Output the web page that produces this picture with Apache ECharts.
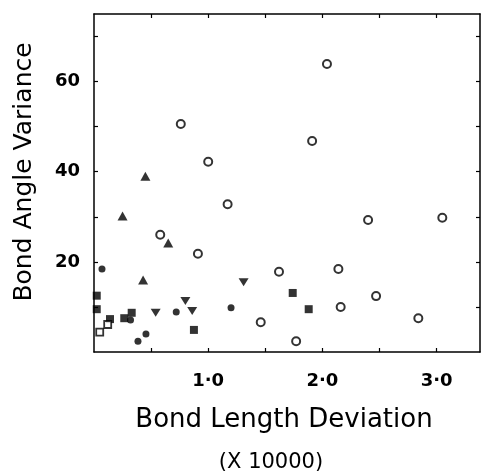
<!DOCTYPE html>
<html>
<head>
<meta charset="utf-8">
<style>
html,body{margin:0;padding:0;background:#fff;}
#c{width:482px;height:471px;}
</style>
<script src="https://cdn.jsdelivr.net/npm/echarts@6/dist/echarts.min.js"></script>
</head>
<body>
<div id="c"></div>
<script>
// Data
const openCircles = [
  [0.76, 50.6], [1.00, 42.2], [2.04, 63.9], [1.91, 46.8], [1.17, 32.8],
  [0.58, 26.0], [0.91, 21.8], [1.62, 17.8], [1.46, 6.6], [2.40, 29.3],
  [3.05, 29.8], [2.14, 18.4], [2.47, 12.4], [2.16, 10.0], [2.84, 7.5], [1.77, 2.4]
];
const filledTriangles = [[0.45, 39.0], [0.25, 30.2], [0.65, 24.2], [0.43, 16.0]];
const downTriangles = [[1.31, 15.5], [0.80, 11.3], [0.86, 9.1], [0.54, 8.7]];
const filledCircles = [[0.07, 18.4], [0.72, 8.9], [1.20, 9.8], [0.455, 4.0], [0.385, 2.4], [0.32, 7.1]];
const filledSquares = [[0.024, 12.5], [0.024, 9.5], [0.14, 7.3], [0.265, 7.5], [0.33, 8.7], [0.875, 4.9], [1.74, 13.1], [1.88, 9.5]];
const openSquares = [[0.05, 4.4], [0.12, 6.1]];

const xTicks = [0.5, 1.0, 1.5, 2.0, 2.5, 3.0];
const xLabels = [1.0, 2.0, 3.0];
const yTicks = [10, 20, 30, 40, 50, 60, 70];
const yLabels = [20, 40, 60];

const xTitle = 'Bond Length Deviation';
const xSub = '(X 10000)';
const yTitle = 'Bond Angle Variance';

const FONT = 'DejaVu Sans';
const frameLine = {show: true, onZero: false, lineStyle: {color: '#000', width: 1.5}};

const chart = echarts.init(document.getElementById('c'), null, {renderer: 'canvas'});
const baseX = {
  type: 'value', min: 0, max: 3.38, splitLine: {show: false},
  axisLine: frameLine,
  axisTick: {show: true, inside: true, length: 4, customValues: xTicks, lineStyle: {color: '#000', width: 1.2}}
};
const baseY = {
  type: 'value', min: 0, max: 75, splitLine: {show: false},
  axisLine: frameLine,
  axisTick: {show: true, inside: true, length: 4, customValues: yTicks, lineStyle: {color: '#000', width: 1.2}}
};
chart.setOption({
  animation: false,
  backgroundColor: '#fff',
  grid: {left: 94, right: 2, top: 14, bottom: 119, containLabel: false},
  xAxis: [
    Object.assign({}, baseX, {
      position: 'bottom',
      axisLabel: {show: true, customValues: xLabels, margin: 20, color: '#000',
        fontFamily: FONT, fontSize: 18, fontWeight: 'bold',
        formatter: v => v.toFixed(1).replace('.', '\u00B7')}
    }),
    Object.assign({}, baseX, {position: 'top', axisLabel: {show: false}})
  ],
  yAxis: [
    Object.assign({}, baseY, {
      position: 'left',
      axisLabel: {show: true, customValues: yLabels, margin: 14, color: '#000',
        fontFamily: FONT, fontSize: 18, fontWeight: 'bold'}
    }),
    Object.assign({}, baseY, {position: 'right', axisLabel: {show: false}})
  ],
  graphic: [
    {type: 'text', x: 284, y: 420, style: {text: xTitle, fill: '#000', font: '26px "' + FONT + '"', textAlign: 'center', textVerticalAlign: 'middle'}},
    {type: 'text', x: 271, y: 463, style: {text: xSub, fill: '#000', font: '21px "' + FONT + '"', textAlign: 'center', textVerticalAlign: 'middle'}},
    {type: 'text', x: 24, y: 172, rotation: Math.PI / 2, style: {text: yTitle, fill: '#000', font: '25px "' + FONT + '"', textAlign: 'center', textVerticalAlign: 'middle'}}
  ],
  series: [
    {type: 'scatter', data: openCircles, symbol: 'circle', symbolSize: 8,
      itemStyle: {color: '#fff', borderColor: '#000', borderWidth: 2}},
    {type: 'scatter', data: filledTriangles, symbol: 'triangle', symbolSize: [10, 9],
      itemStyle: {color: '#000'}},
    {type: 'scatter', data: downTriangles, symbol: 'triangle', symbolRotate: 180, symbolSize: [10, 8],
      itemStyle: {color: '#000'}},
    {type: 'scatter', data: filledCircles, symbol: 'circle', symbolSize: 7,
      itemStyle: {color: '#000'}},
    {type: 'scatter', data: filledSquares, symbol: 'rect', symbolSize: 8,
      itemStyle: {color: '#000'}},
    {type: 'scatter', data: openSquares, symbol: 'rect', symbolSize: 7,
      itemStyle: {color: '#fff', borderColor: '#000', borderWidth: 1.8}}
  ]
});
</script>
</body>
</html>
